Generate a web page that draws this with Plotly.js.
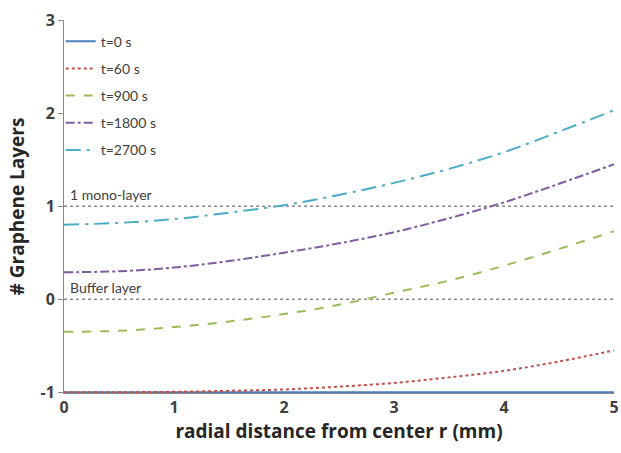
<!DOCTYPE html>
<html><head><meta charset="utf-8">
<script src="https://cdn.plot.ly/plotly-3.0.1.min.js"></script>
<style>html,body{margin:0;padding:0;background:#fff;overflow:hidden}#chart{width:621px;height:453px}</style>
</head><body><div id="chart"></div>
<script>
const r = [0, 0.5, 1, 1.5, 2, 2.5, 3, 3.5, 4, 4.5, 5];
const seriesNames = ["t=0 s", "t=60 s", "t=900 s", "t=1800 s", "t=2700 s"];
const t0    = [-1, -1, -1, -1, -1, -1, -1, -1, -1, -1, -1];
const t60   = [-1, -1, -0.995, -0.985, -0.97, -0.94, -0.9, -0.84, -0.77, -0.67, -0.55];
const t900  = [-0.35, -0.34, -0.3, -0.24, -0.16, -0.06, 0.07, 0.2, 0.36, 0.54, 0.73];
const t1800 = [0.29, 0.3, 0.34, 0.41, 0.5, 0.6, 0.72, 0.87, 1.04, 1.24, 1.45];
const t2700 = [0.8, 0.82, 0.86, 0.93, 1.01, 1.12, 1.25, 1.4, 1.58, 1.8, 2.03];
const refLevels = [1, 0];
const refLabels = ["1 mono-layer", "Buffer layer"];
const xRange = [0, 5];
const yTicks = [-1, 0, 1, 2, 3];
const yTickText = ["-1", "0", "1", "2", "3"];
const xTicks = [0, 1, 2, 3, 4, 5];

const colors = ["#4a7ebb", "#c0504d", "#9bbb59", "#7d5fa0", "#4bacc6"];
const dashes = ["solid", "dot", "dash", "dashdot", "longdashdot"];
const ys = [t0, t60, t900, t1800, t2700];

const traces = [];
refLevels.forEach(function(lv){
  traces.push({x: xRange, y: [lv, lv], mode: "lines", showlegend: false, hoverinfo: "skip",
    line: {color: "#8a8a8a", width: 1.5, dash: "dot"}});
});
ys.forEach(function(y, i){
  traces.push({x: r, y: y, name: seriesNames[i], mode: "lines", line: {shape: "spline", color: colors[i], width: 2, dash: dashes[i]}, legendgroup: "g" + i});
});

const annotations = refLevels.map(function(lv, i){
  return {x: 0.04, y: lv, xref: "x", yref: "y", text: refLabels[i], showarrow: false,
    xanchor: "left", yanchor: "bottom", yshift: 1, font: {family: "Lato, sans-serif", size: 14, color: "#404040"}};
});

const tickFont = {family: "'Open Sans', sans-serif", size: 16, color: "#404040", weight: "bold"};
const layout = {
  width: 621, height: 453,
  margin: {l: 64, r: 7, t: 20, b: 60},
  paper_bgcolor: "#fff", plot_bgcolor: "#fff",
  font: {family: "Lato, sans-serif", color: "#404040"},
  showlegend: true,
  legend: {x: -0.006, y: 0.985, xanchor: "left", yanchor: "top", bgcolor: "rgba(0,0,0,0)",
    font: {family: "Lato, sans-serif", size: 14, color: "#404040"}, traceorder: "grouped", tracegroupgap: 6, itemwidth: 30},
  xaxis: {range: xRange, tickvals: xTicks, showgrid: false, zeroline: false, showline: true, linecolor: "#8a8a8a", linewidth: 1,
    ticks: "", tickfont: tickFont, ticklabeloverflow: "allow", automargin: false,
    title: {text: "radial distance from center r (mm)", font: {family: "'Open Sans', sans-serif", size: 19, color: "#262626", weight: "bold"}, standoff: 7}},
  yaxis: {range: [-1.008, 3], tickvals: yTicks, ticktext: yTickText, showgrid: false, zeroline: false, showline: true, linecolor: "#8a8a8a", linewidth: 1,
    ticks: "outside", ticklen: 5, tickcolor: "#8a8a8a", tickfont: tickFont, automargin: false,
    title: {text: "# Graphene Layers", font: {family: "'Open Sans', sans-serif", size: 19, color: "#262626", weight: "bold"}, standoff: 10}},
  annotations: annotations
};
Plotly.newPlot("chart", traces, layout, {displayModeBar: false, staticPlot: true});
</script></body></html>
